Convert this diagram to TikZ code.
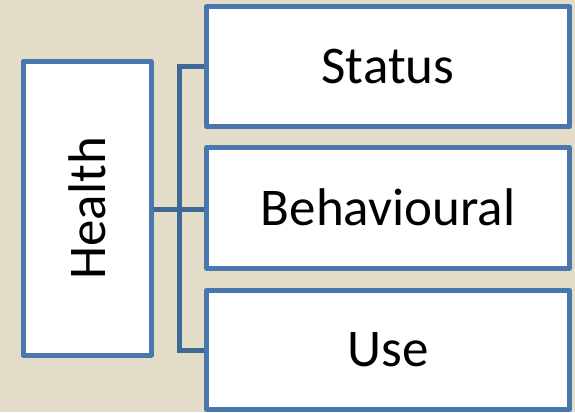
\documentclass[tikz,border=0pt]{standalone}
\usepackage{fontspec}
\setmainfont{Carlito}
\definecolor{bgbeige}{HTML}{E3DCC9}
\definecolor{boxblue}{HTML}{4A76AE}
\definecolor{linkblue}{HTML}{3F6896}
\begin{document}
\begin{tikzpicture}[x=1pt,y=-1pt,
  panel/.style={draw=boxblue,line width=5pt,fill=white,inner sep=0pt,
    line join=round,font=\fontsize{53}{60}\selectfont},
  link/.style={draw=linkblue,line width=5pt}]
  % canvas
  \fill[bgbeige] (0,0) rectangle (575,412);
  \useasboundingbox (0,0) rectangle (575,412);
  % connectors
  \coordinate (hub) at (179,209);
  \coordinate (top) at (179,66.5);
  \coordinate (bot) at (179,350.5);
  \draw[link] (151,209) -- (hub);
  \draw[link] (206.5,66.5) -- (top) -- (bot) -- (206.5,350.5);
  \draw[link] (hub) -- (206.5,209);
  % left box
  \node[panel,minimum width=128pt,minimum height=293.5pt,anchor=center] (health) at (87,208.25) {};
  \node[rotate=90,font=\fontsize{53}{60}\selectfont] (htext) at (health.center) {Health};
  % right boxes
  \node[panel,minimum width=363pt,minimum height=120pt] (status) at (388,66.5) {Status};
  \node[panel,minimum width=363pt,minimum height=120.5pt] (behav) at (388,207.75) {Behavioural};
  \node[panel,minimum width=363pt,minimum height=119.5pt] (use) at (388,349.75) {Use};
\end{tikzpicture}
\end{document}
